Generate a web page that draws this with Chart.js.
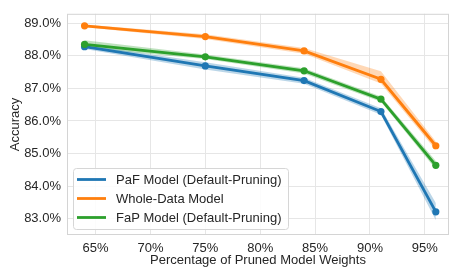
<!DOCTYPE html>
<html>
<head>
<meta charset="utf-8">
<script src="https://cdn.jsdelivr.net/npm/chart.js@4"></script>
<style>
    html, body { margin: 0; padding: 0; background: #ffffff; }
    #wrap { width: 453px; height: 267px; }
</style>
</head>
<body>
<div id="wrap"><canvas id="accuracyChart" width="453" height="267"></canvas></div>
<script>
// pruned percentage for each measured point
const prunedPct = [64, 75, 84, 91, 96];

// mean accuracy and confidence band per model
const pafAcc = [88.28, 87.69, 87.24, 86.29, 83.21];
const pafLow = [88.21, 87.58, 87.14, 86.19, 82.95];
const pafHigh = [88.34, 87.80, 87.33, 86.39, 83.48];

const wholeAcc = [88.92, 88.59, 88.15, 87.28, 85.24];
const wholeLow = [88.88, 88.52, 88.06, 87.15, 85.11];
const wholeHigh = [88.96, 88.66, 88.24, 87.53, 85.37];

const fapAcc = [88.35, 87.97, 87.54, 86.67, 84.64];
const fapLow = [88.24, 87.90, 87.46, 86.59, 84.52];
const fapHigh = [88.48, 88.04, 87.62, 86.75, 84.77];

const seriesNames = ['PaF Model (Default-Pruning)', 'Whole-Data Model', 'FaP Model (Default-Pruning)'];
const seriesColors = ['#1f77b4', '#ff7f0e', '#2ca02c'];
const bandColors = ['rgba(31,119,180,0.3)', 'rgba(255,127,14,0.3)', 'rgba(44,160,44,0.3)'];

const xTicks = [65, 70, 75, 80, 85, 90, 95];
const yTicks = [83, 84, 85, 86, 87, 88, 89];

const FONT = "'Liberation Sans', Arial, sans-serif";
const TEXT_COLOR = '#262626';

function toPoints(values) {
    return prunedPct.map((x, i) => ({ x: x, y: values[i] }));
}

const means = [pafAcc, wholeAcc, fapAcc];
const lows = [pafLow, wholeLow, fapLow];
const highs = [pafHigh, wholeHigh, fapHigh];

const datasets = [];
// lines first (green drawn on top like in seaborn)
means.forEach(function(vals, i) {
    datasets.push({
        label: seriesNames[i],
        data: toPoints(vals),
        borderColor: seriesColors[i],
        backgroundColor: seriesColors[i],
        borderWidth: 2.8,
        pointRadius: 3.6,
        pointBorderWidth: 0,
        pointBackgroundColor: seriesColors[i],
        fill: false,
        tension: 0,
        order: 3 - i
    });
});
// confidence bands
means.forEach(function(vals, i) {
    const upperIndex = datasets.length;
    datasets.push({
        label: seriesNames[i] + ' upper',
        data: toPoints(highs[i]),
        borderWidth: 0,
        borderColor: 'rgba(0,0,0,0)',
        pointRadius: 0,
        backgroundColor: bandColors[i],
        fill: upperIndex + 1,
        order: 10 + i
    });
    datasets.push({
        label: seriesNames[i] + ' lower',
        data: toPoints(lows[i]),
        borderWidth: 0,
        borderColor: 'rgba(0,0,0,0)',
        pointRadius: 0,
        fill: false,
        order: 10 + i
    });
});

// frame round the plot area
const framePlugin = {
    id: 'frame',
    beforeDatasetsDraw(chart) {
        const a = chart.chartArea;
        const ctx = chart.ctx;
        ctx.save();
        ctx.strokeStyle = '#d4d4d4';
        ctx.lineWidth = 1;
        ctx.strokeRect(a.left + 0.5, a.top + 0.5, a.right - a.left - 1, a.bottom - a.top - 1);
        ctx.restore();
    }
};

// legend drawn inside the plot, lower left
const insideLegend = {
    id: 'insideLegend',
    afterDraw(chart) {
        const a = chart.chartArea;
        const ctx = chart.ctx;
        const boxW = 215, boxH = 61;
        const bx = a.left + 6, by = a.bottom - 6 - boxH;
        ctx.save();
        ctx.beginPath();
        ctx.roundRect(bx + 0.5, by + 0.5, boxW, boxH, 3);
        ctx.fillStyle = 'rgba(255,255,255,0.85)';
        ctx.fill();
        ctx.strokeStyle = '#d6d6d6';
        ctx.lineWidth = 1;
        ctx.stroke();
        ctx.font = '13px ' + FONT;
        ctx.textBaseline = 'middle';
        ctx.fillStyle = TEXT_COLOR;
        seriesNames.forEach(function(name, i) {
            const y = by + 11.5 + i * 19;
            ctx.strokeStyle = seriesColors[i];
            ctx.lineWidth = 2.8;
            ctx.beginPath();
            ctx.moveTo(bx + 4, y);
            ctx.lineTo(bx + 33, y);
            ctx.stroke();
            ctx.fillText(name, bx + 43, y + 0.5);
        });
        ctx.restore();
    }
};

const ctx = document.getElementById('accuracyChart').getContext('2d');
new Chart(ctx, {
    type: 'line',
    data: { datasets: datasets },
    options: {
        responsive: false,
        animation: false,
        devicePixelRatio: 1,
        layout: { padding: { top: 10, right: 1, left: 0, bottom: 0 } },
        plugins: {
            legend: { display: false },
            tooltip: { enabled: false }
        },
        scales: {
            x: {
                type: 'linear',
                min: 62.4,
                max: 97.2,
                afterBuildTicks: function(scale) {
                    scale.ticks = xTicks.map(v => ({ value: v }));
                },
                afterFit: function(scale) { scale.height = 32; },
                grid: { color: '#e6e6e6', lineWidth: 1, drawTicks: false },
                border: { display: false },
                ticks: {
                    padding: 6,
                    maxRotation: 0,
                    color: TEXT_COLOR,
                    font: { family: FONT, size: 13 },
                    callback: v => v + '%'
                },
                title: {
                    display: true,
                    text: 'Percentage of Pruned Model Weights',
                    color: TEXT_COLOR,
                    font: { family: FONT, size: 13, lineHeight: 0.95 },
                    padding: { top: 0, bottom: 0 }
                }
            },
            y: {
                min: 82.5,
                max: 89.29,
                afterBuildTicks: function(scale) {
                    scale.ticks = yTicks.map(v => ({ value: v }));
                },
                afterFit: function(scale) { scale.width = 67; },
                grid: { color: '#e6e6e6', lineWidth: 1, drawTicks: false },
                border: { display: false },
                ticks: {
                    padding: 6,
                    color: TEXT_COLOR,
                    font: { family: FONT, size: 13 },
                    callback: v => v.toFixed(1) + '%'
                },
                title: {
                    display: true,
                    text: 'Accuracy',
                    color: TEXT_COLOR,
                    font: { family: FONT, size: 13 },
                    padding: { top: 8, bottom: 0 }
                }
            }
        }
    },
    plugins: [framePlugin, insideLegend]
});
</script>
</body>
</html>
